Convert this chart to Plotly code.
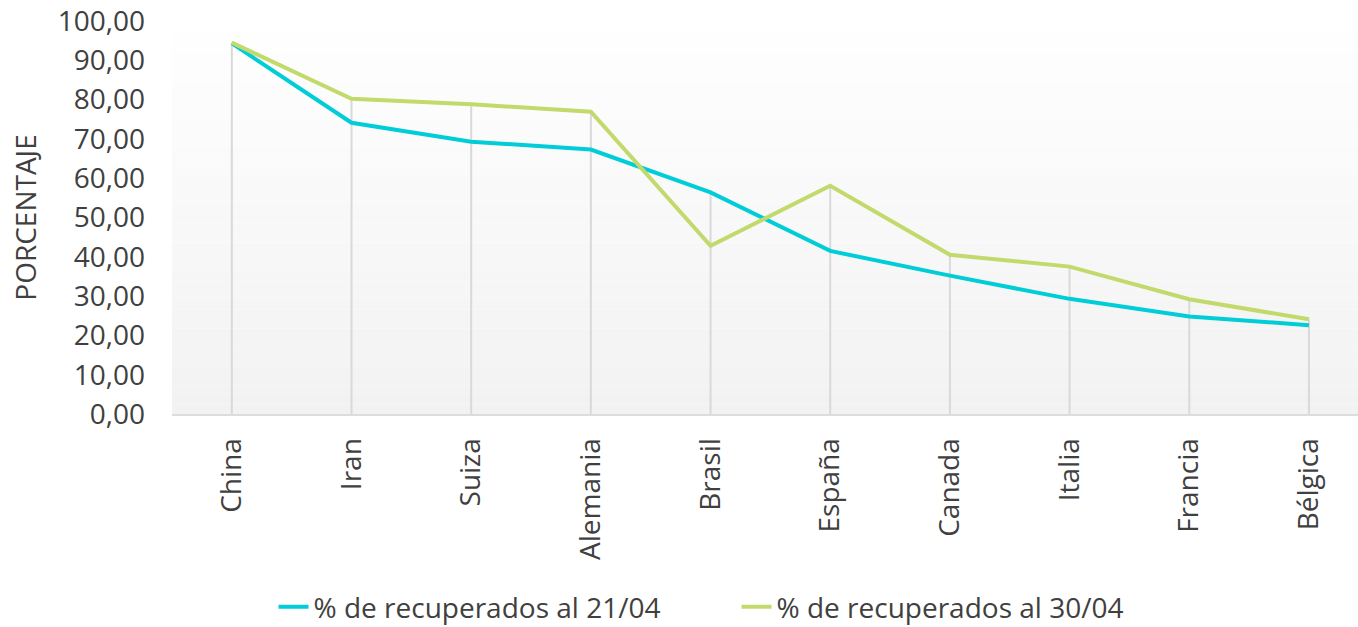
import plotly.graph_objects as go

paises = ["China", "Iran", "Suiza", "Alemania", "Brasil", "España", "Canada", "Italia", "Francia", "Bélgica"]
rec_21_04 = [94.3, 74.1, 69.3, 67.3, 56.4, 41.5, 35.2, 29.3, 24.8, 22.6]
rec_30_04 = [94.5, 80.2, 78.8, 76.9, 42.8, 58.1, 40.5, 37.5, 29.2, 24.1]
nombres = ["% de recuperados al 21/04", "% de recuperados al 30/04"]
y_ticks = [0, 10, 20, 30, 40, 50, 60, 70, 80, 90, 100]

FONT = "Open Sans"
TXT = "#404040"
FS = 28

fig = go.Figure()

# drop lines from axis up to the highest series value
dx, dy = [], []
for p, a, b in zip(paises, rec_21_04, rec_30_04):
    dx += [p, p, None]
    dy += [0, max(a, b), None]
fig.add_trace(go.Scatter(x=dx, y=dy, mode="lines", line=dict(color="#d9d9d9", width=2),
                         showlegend=False, hoverinfo="skip"))

fig.add_trace(go.Scatter(x=paises, y=rec_21_04, mode="lines", name=nombres[0],
                         line=dict(color="#00CDD8", width=4)))
fig.add_trace(go.Scatter(x=paises, y=rec_30_04, mode="lines", name=nombres[1],
                         line=dict(color="#C2D96B", width=4)))

# gradient plot background
n = 40
top = 96.8
shapes = []
for i in range(n):
    y0 = top * i / n
    y1 = top * (i + 1) / n
    t = i / (n - 1)
    c = int(round(0xF2 + (0xFE - 0xF2) * t))
    shapes.append(dict(type="rect", xref="paper", yref="y", x0=0, x1=1, y0=y0, y1=y1,
                       fillcolor=f"rgb({c},{c},{c})", line=dict(width=0), layer="below"))

fig.update_layout(
    width=1358, height=627,
    margin=dict(l=172, r=0, t=21, b=213, autoexpand=False),
    paper_bgcolor="white", plot_bgcolor="white",
    separators=",.",
    font=dict(family=FONT, color=TXT),
    shapes=shapes,
    showlegend=True,
    legend=dict(orientation="h", x=0.0856, xanchor="left", y=-0.491, yanchor="middle",
                font=dict(size=FS, family=FONT, color=TXT),
                entrywidth=418, entrywidthmode="pixels", itemwidth=30),
    xaxis=dict(type="category", range=[-0.5, 9.41], showgrid=False, tickangle=-90,
               tickfont=dict(size=FS, family=FONT, color=TXT), ticks="",
               ticklabelstandoff=11, ticklabeloverflow="allow",
               showline=True, linecolor="#dcdcdc", linewidth=2, zeroline=False),
    yaxis=dict(range=[0, 100], tickvals=y_ticks, tickformat=".2f", showgrid=False,
               zeroline=False, showline=False, ticks="", ticklabelstandoff=26,
               ticklabeloverflow="allow",
               tickfont=dict(size=FS, family=FONT, color=TXT),
               title=dict(text="PORCENTAJE", font=dict(size=FS, family=FONT, color=TXT), standoff=12)),
)

fig.write_html("out.html", config={"displayModeBar": False},
               post_script="document.body.style.margin='0';")
